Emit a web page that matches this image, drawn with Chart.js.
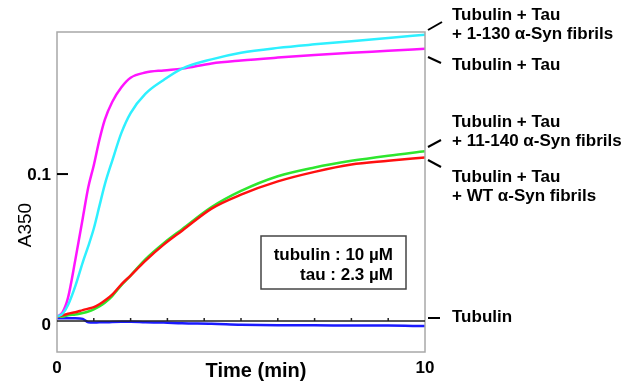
<!DOCTYPE html>
<html>
<head>
<meta charset="utf-8">
<script src="https://cdn.jsdelivr.net/npm/chart.js@4.4.1/dist/chart.umd.min.js"></script>
<style>
    body { margin: 0; background: #ffffff; }
    #wrap { width: 636px; height: 384px; }
</style>
</head>
<body>
<div id="wrap"><canvas id="turbChart" width="636" height="384"></canvas></div>
<script>
// ================================
// Data (time in min, A350)
// ================================

const times = [0, 0.15, 0.3, 0.5, 0.7, 0.85, 1.0, 1.15, 1.3, 1.5, 1.75, 2.0, 2.4, 2.9, 3.4, 4.2, 5.0, 6.0, 7.0, 8.0, 9.0, 10.0];

const tauOnly = [0.003, 0.006, 0.016, 0.042, 0.070, 0.091, 0.106, 0.123, 0.137, 0.149, 0.159, 0.1655, 0.169, 0.1705, 0.1717, 0.1752, 0.1772, 0.1792, 0.181, 0.1825, 0.1838, 0.1852];
const syn1130 = [0.003, 0.005, 0.011, 0.024, 0.040, 0.051, 0.063, 0.078, 0.093, 0.109, 0.128, 0.1415, 0.1545, 0.164, 0.1717, 0.178, 0.1825, 0.1858, 0.1882, 0.1903, 0.1925, 0.1948];
const syn11140 = [0.003, 0.003, 0.004, 0.0045, 0.0055, 0.0065, 0.008, 0.010, 0.0125, 0.017, 0.0245, 0.031, 0.042, 0.053, 0.0625, 0.0775, 0.0885, 0.0985, 0.1045, 0.109, 0.1125, 0.1155];
const synWT = [0.003, 0.004, 0.005, 0.006, 0.0075, 0.0085, 0.0095, 0.0115, 0.014, 0.018, 0.025, 0.031, 0.041, 0.052, 0.0615, 0.0765, 0.086, 0.095, 0.1015, 0.1065, 0.109, 0.1113];
const tubulinOnly = [0.002, 0.002, 0.002, 0.002, 0.0015, -0.0008, -0.001, -0.0008, -0.0008, -0.0006, -0.0005, -0.0005, -0.0008, -0.001, -0.0015, -0.0018, -0.0025, -0.0028, -0.0028, -0.003, -0.003, -0.0034];

// Axis ticks
const xTicks = [0, 10];
const xTickLabels = ["0", "10"];
const xMinorTicks = [1, 2, 3, 4, 5, 6, 7, 8, 9];
const yTicks = [0, 0.1];
const yTickLabels = ["0", "0.1"];

// Right-hand curve labels
const curveLabels = [
    ["Tubulin + Tau", "+ 1-130 \u03B1-Syn fibrils"],
    ["Tubulin + Tau"],
    ["Tubulin + Tau", "+ 11-140 \u03B1-Syn fibrils"],
    ["Tubulin + Tau", "+ WT \u03B1-Syn fibrils"],
    ["Tubulin"]
];

const boxLines = ["tubulin : 10 \u00B5M", "tau : 2.3 \u00B5M"];

const pts = arr => arr.map((v, i) => ({ x: times[i], y: v }));

// ================================
// Decorations plugin
// ================================

const FONT = "'Liberation Sans', Arial, sans-serif";

const decor = {
    id: "decor",
    afterDatasetsDraw(chart) {
        const c = chart.ctx;
        const a = chart.chartArea;
        const xs = chart.scales.x;
        const ys = chart.scales.y;

        c.save();

        // frame
        c.strokeStyle = "#a8a8a8";
        c.lineWidth = 1.5;
        c.strokeRect(a.left, a.top, a.right - a.left, a.bottom - a.top);

        // zero line with minute ticks
        const y0 = ys.getPixelForValue(0);
        c.strokeStyle = "#222222";
        c.lineWidth = 1.5;
        c.beginPath();
        c.moveTo(a.left, y0);
        c.lineTo(a.right, y0);
        xMinorTicks.forEach(t => {
            const px = xs.getPixelForValue(t);
            c.moveTo(px, y0);
            c.lineTo(px, y0 - 3);
        });
        c.stroke();

        // y tick at 0.1
        c.strokeStyle = "#000000";
        c.lineWidth = 2;
        c.beginPath();
        const y1 = ys.getPixelForValue(yTicks[1]);
        c.moveTo(a.left, y1);
        c.lineTo(a.left + 11, y1);
        c.stroke();

        // y tick labels
        c.fillStyle = "#000000";
        c.font = "bold 17px " + FONT;
        c.textAlign = "right";
        c.textBaseline = "middle";
        yTicks.forEach((v, i) => {
            const off = v === 0 ? 4 : 1;
            c.fillText(yTickLabels[i], a.left - 6, ys.getPixelForValue(v) + off);
        });

        // x tick labels
        c.textAlign = "center";
        c.textBaseline = "alphabetic";
        xTicks.forEach((v, i) => {
            c.fillText(xTickLabels[i], xs.getPixelForValue(v), 373);
        });

        // axis titles
        c.font = "bold 20px " + FONT;
        c.fillText("Time (min)", 256, 377);

        c.save();
        c.translate(26, 225);
        c.rotate(-Math.PI / 2);
        c.font = "19px " + FONT;
        c.textBaseline = "middle";
        c.fillText("A350", 0, 0);
        c.restore();

        // right labels with leader dashes
        const leaders = [
            [428, 30, 442, 22],
            [428, 57, 441, 63],
            [428, 147, 441, 140],
            [428, 160, 441, 167],
            [428, 318, 440, 318]
        ];
        const labelY = [15, 65, 122, 177, 317];
        c.lineWidth = 2;
        c.strokeStyle = "#000000";
        leaders.forEach(l => {
            c.beginPath();
            c.moveTo(l[0], l[1]);
            c.lineTo(l[2], l[3]);
            c.stroke();
        });
        c.font = "bold 17px " + FONT;
        c.textAlign = "left";
        c.textBaseline = "middle";
        curveLabels.forEach((lines, i) => {
            lines.forEach((s, j) => {
                c.fillText(s, 452, labelY[i] + j * 19.5);
            });
        });

        // concentration box
        c.fillStyle = "#ffffff";
        c.fillRect(261, 236, 145, 53);
        c.strokeStyle = "#444444";
        c.lineWidth = 1.5;
        c.strokeRect(261, 236, 145, 53);
        c.fillStyle = "#000000";
        c.textAlign = "right";
        boxLines.forEach((s, j) => {
            c.fillText(s, 393, 255 + j * 20);
        });

        c.restore();
    }
};

// ================================
// Chart
// ================================

const ctx = document.getElementById("turbChart").getContext("2d");

const lineStyle = {
    borderWidth: 2.5,
    pointRadius: 0,
    fill: false,
    cubicInterpolationMode: "monotone"
};

new Chart(ctx, {
    type: "line",
    data: {
        datasets: [
            Object.assign({ label: "Tubulin + Tau + 1-130", data: pts(syn1130), borderColor: "#2ef0ff", order: 1 }, lineStyle),
            Object.assign({ label: "Tubulin + Tau", data: pts(tauOnly), borderColor: "#ff14ff", order: 2 }, lineStyle),
            Object.assign({ label: "Tubulin + Tau + WT", data: pts(synWT), borderColor: "#ff1010", order: 3 }, lineStyle),
            Object.assign({ label: "Tubulin + Tau + 11-140", data: pts(syn11140), borderColor: "#2ee62e", order: 4 }, lineStyle),
            Object.assign({ label: "Tubulin", data: pts(tubulinOnly), borderColor: "#1a1aff", order: 5 }, lineStyle)
        ]
    },
    options: {
        responsive: false,
        animation: false,
        layout: {
            padding: { left: 57, top: 32, right: 211, bottom: 32 }
        },
        plugins: {
            legend: { display: false },
            tooltip: { enabled: false }
        },
        scales: {
            x: { type: "linear", min: 0, max: 10, display: false },
            y: { min: -0.021, max: 0.1966, display: false }
        }
    },
    plugins: [decor]
});
</script>
</body>
</html>
